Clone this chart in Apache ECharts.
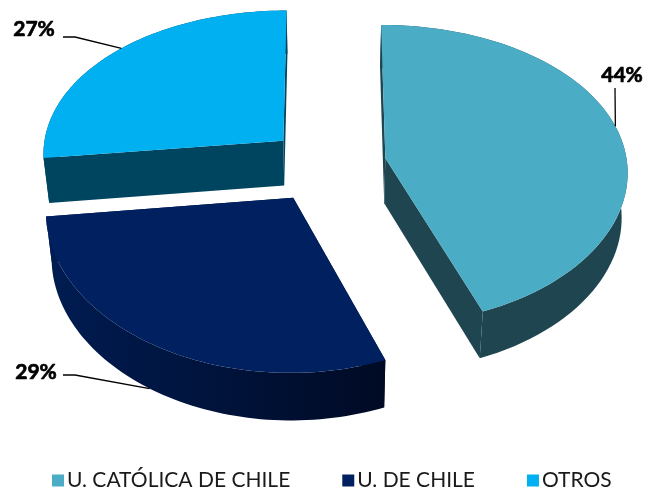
<!DOCTYPE html>
<html><head><meta charset="utf-8">
<style>html,body{margin:0;padding:0;background:#fff}#c{width:648px;height:489px}</style>
<script src="https://cdn.jsdelivr.net/npm/echarts@6/dist/echarts.min.js"></script>
</head><body><div id="c"></div>
<script>
const categories = ['U. CATÓLICA DE CHILE', 'U. DE CHILE', 'OTROS'];
const values = [44.2, 28.9, 26.9];
const faceColors = ['#4BACC6', '#002060', '#00B0F0'];
const wallColors = [['#1F4650', '#1F4650'], ['#001C52', '#000A24'], ['#004560', '#004560']];
// label layout: text centre, then the leader's elbow in pixels
const labelAt = [[622, 75], [36, 372], [34, 29]];
const leaderFrom = [[[615, 88]], [[63, 375], [75, 375]], [[63, 37], [75, 37]]];
const leaderOnBottomRim = [false, true, false];
const leaderFraction = [0.485, 0.52, 0.52];
const sliceShiftX = [-0.008, -0.012, 0];

// perspective model of the tilted pie
const P = {cx: 328, cy: 165, A: 242, B: 149, kx: 0.08, ky: 0.107, explode: 0.25, depth: 45, q: 0.98};
const total = values.reduce((a, b) => a + b, 0);
const starts = [];
values.reduce((acc, v, i) => { starts[i] = acc; return acc + v; }, 0);
const rad = v => v / total * 2 * Math.PI;

function project(X, Y, bottom) {
  const Sx = 1 / (1 + P.kx * Y), Sy = 1 / (1 + P.ky * Y);
  let x = P.A * X * Sx, y = -P.B * Y * Sy;
  if (bottom) { x *= P.q; y = y * P.q + P.depth * Sy; }
  return [P.cx + x, P.cy + y];
}
function rimPoint(i, t, bottom) {
  const mid = rad(starts[i] + values[i] / 2);
  const ox = Math.sin(mid) * P.explode + sliceShiftX[i], oy = Math.cos(mid) * P.explode;
  return t === null ? project(ox, oy, bottom) : project(ox + Math.sin(t), oy + Math.cos(t), bottom);
}
function renderSlice(i) {
  const a0 = rad(starts[i]), a1 = rad(starts[i] + values[i]);
  const top = [], bot = [];
  for (let n = 0; n <= 72; n++) {
    const t = a0 + (a1 - a0) * n / 72;
    top.push(rimPoint(i, t, false));
    bot.push(rimPoint(i, t, true));
  }
  const apexT = rimPoint(i, null, false), apexB = rimPoint(i, null, true);
  const xs = top.map(p => p[0]);
  const wall = {type: 'linear', global: true, x: Math.min(...xs), y: 0, x2: Math.max(...xs), y2: 0,
    colorStops: [{offset: 0, color: wallColors[i][0]}, {offset: 1, color: wallColors[i][1]}]};
  const anchor = rimPoint(i, a0 + (a1 - a0) * leaderFraction[i], leaderOnBottomRim[i]);
  const children = [
    {type: 'polygon', shape: {points: [apexT, top[0], bot[0], apexB]}, style: {fill: wall}},
    {type: 'polygon', shape: {points: [apexT, top[72], bot[72], apexB]}, style: {fill: wall}},
    {type: 'polygon', shape: {points: top.concat(bot.slice().reverse())}, style: {fill: wall}},
    {type: 'polygon', shape: {points: [apexT].concat(top)}, style: {fill: faceColors[i]}},
    {type: 'polyline', shape: {points: leaderFrom[i].concat([anchor])}, style: {stroke: '#000', lineWidth: 1.3, fill: null}},
    {type: 'text', style: {text: Math.round(values[i] / total * 100) + '%', x: labelAt[i][0], y: labelAt[i][1],
      align: 'center', verticalAlign: 'middle', fill: '#000', stroke: '#000', lineWidth: 0.7, font: 'bold 21px Lato'}}
  ];
  return {type: 'group', children};
}
const chart = echarts.init(document.getElementById('c'), null, {renderer: 'canvas'});
chart.setOption({
  animation: false,
  backgroundColor: '#fff',
  legend: {
    left: 52, top: 470, padding: 0, itemWidth: 12, itemHeight: 12, itemGap: 52, icon: 'rect',
    itemStyle: {borderWidth: 0},
    textStyle: {fontFamily: 'Lato', fontSize: 21, color: '#1a1a1a', padding: [0, 0, 0, -2]},
    data: categories
  },
  series: categories.map((name, i) => ({
    type: 'custom', name, coordinateSystem: 'none', silent: true,
    itemStyle: {color: faceColors[i]},
    data: [[values[i]]],
    renderItem: () => renderSlice(i)
  }))
});
</script></body></html>
